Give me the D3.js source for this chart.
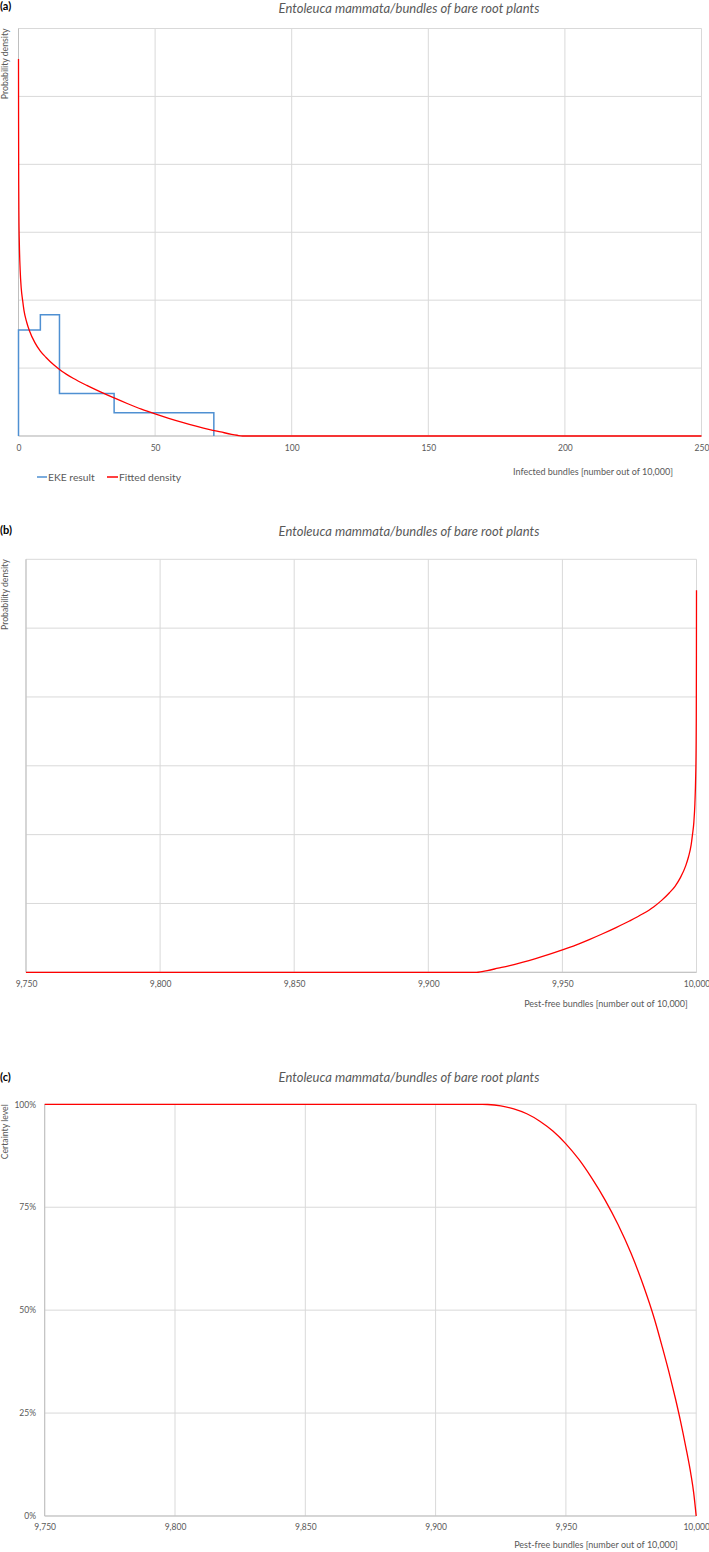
<!DOCTYPE html>
<html>
<head>
<meta charset="utf-8">
<script src="https://cdn.jsdelivr.net/npm/d3@7"></script>
<style>
  html, body { margin: 0; padding: 0; background: #fff; }
  svg { display: block; }
  text { font-family: Lato, "Open Sans", sans-serif; }
</style>
</head>
<body>
<svg id="chart" width="709" height="1552"></svg>
<script>
// ---------- DATA ----------
const chartTitle = "Entoleuca mammata/bundles of bare root plants";
const panelLabels = ["(a)", "(b)", "(c)"];

// EKE result histogram (infected bundles): bin edges and densities
const ekeEdges = [0, 8, 15, 35, 71.5];
const ekeDensity = [0.03125, 0.0357, 0.0125, 0.00685];

// Fitted density (infected bundles -> density)
const fittedX = [0, 0.03, 0.08, 0.15, 0.3, 0.6, 1, 1.5, 2, 3, 4, 6, 8, 10, 13, 16, 20, 25, 30, 35, 40, 45, 50, 55, 60, 65, 70, 74, 78, 80, 82, 250];
const fittedY = [0.111, 0.092, 0.074, 0.065, 0.057, 0.049, 0.0435, 0.040, 0.037, 0.0335, 0.031, 0.0275, 0.025, 0.0232, 0.0209, 0.0190, 0.0170, 0.0149, 0.0130, 0.0112, 0.0095, 0.0079, 0.0065, 0.0052, 0.0040, 0.0029, 0.0019, 0.0012, 0.0005, 0.00022, 0, 0];

// Certainty level (pest-free bundles -> certainty)
const certX = [9750, 9918, 9920, 9925, 9930, 9935, 9940, 9945, 9950, 9955, 9960, 9965, 9970, 9975, 9980, 9984, 9987, 9990, 9992, 9994, 9996, 9998, 9999, 10000];
const certY = [1, 1, 0.9995, 0.996, 0.989, 0.977, 0.959, 0.935, 0.904, 0.866, 0.820, 0.768, 0.708, 0.638, 0.555, 0.478, 0.41, 0.338, 0.286, 0.23, 0.168, 0.10, 0.058, 0];

// Tick values
const ticksA = [0, 50, 100, 150, 200, 250];
const ticksB = [9750, 9800, 9850, 9900, 9950, 10000];
const densityGrid = [0, 0.02, 0.04, 0.06, 0.08, 0.1, 0.12];
const certTicks = [0, 0.25, 0.5, 0.75, 1];

const legendLabels = ["EKE result", "Fitted density"];
const xTitleA = "Infected bundles [number out of 10,000]";
const xTitleB = "Pest-free bundles [number out of 10,000]";
const yTitleDensity = "Probability density";
const yTitleCert = "Certainty level";

// ---------- STYLE ----------
const gridColor = "#d9d9d9";
const axisColor = "#bfbfbf";
const textColor = "#595959";
const blue = "#4f90d2";
const red = "#ff0000";

const svg = d3.select("#chart");

function panel(cfg) {
  const g = svg.append("g");
  const x = d3.scaleLinear().domain(cfg.xDomain).range([cfg.left, cfg.right]);
  const y = d3.scaleLinear().domain(cfg.yDomain).range([cfg.bottom, cfg.top]);

  g.append("g").selectAll("line").data(cfg.xTicks).join("line")
    .attr("x1", d => x(d)).attr("x2", d => x(d))
    .attr("y1", cfg.top).attr("y2", cfg.bottom)
    .attr("stroke", gridColor).attr("stroke-width", 1);
  g.append("g").selectAll("line").data(cfg.yGrid).join("line")
    .attr("x1", cfg.left).attr("x2", cfg.right)
    .attr("y1", d => y(d)).attr("y2", d => y(d))
    .attr("stroke", gridColor).attr("stroke-width", 1);
  g.append("line").attr("x1", cfg.left).attr("x2", cfg.right)
    .attr("y1", cfg.bottom).attr("y2", cfg.bottom).attr("stroke", axisColor);
  g.append("line").attr("x1", cfg.left).attr("x2", cfg.left)
    .attr("y1", cfg.top).attr("y2", cfg.bottom).attr("stroke", axisColor);

  const xAxis = d3.axisBottom(x).tickValues(cfg.xTicks).tickSize(0).tickPadding(0)
    .tickFormat(cfg.xFormat);
  const xa = g.append("g").attr("transform", `translate(0,${cfg.xLabelY})`).call(xAxis);
  xa.select(".domain").remove();
  xa.selectAll("text").attr("fill", textColor).attr("font-size", 8.5)
    .attr("font-family", "Lato, sans-serif").attr("dy", "0.35em").attr("y", 0);

  if (cfg.yTicksLabels) {
    const yAxis = d3.axisLeft(y).tickValues(cfg.yTicksLabels).tickSize(0).tickPadding(0)
      .tickFormat(d3.format(".0%"));
    const ya = g.append("g").attr("transform", `translate(${cfg.yLabelX},0)`).call(yAxis);
    ya.select(".domain").remove();
    ya.selectAll("text").attr("fill", textColor).attr("font-size", 8.5)
      .attr("font-family", "Lato, sans-serif");
  }

  svg.append("text").attr("x", 0).attr("y", cfg.labelY)
    .attr("font-family", "Liberation Sans, Arial, sans-serif")
    .attr("font-weight", "bold").attr("font-size", 11).attr("fill", "#000")
    .text(cfg.panelLabel);
  svg.append("text").attr("x", 409).attr("y", cfg.titleY)
    .attr("text-anchor", "middle").attr("font-style", "italic")
    .attr("font-size", 13).attr("fill", textColor).text(chartTitle);
  svg.append("text").attr("transform", `translate(${cfg.yTitleX},${cfg.top}) rotate(-90)`)
    .attr("text-anchor", "end").attr("font-size", 8.7).attr("fill", textColor)
    .text(cfg.yTitle);
  svg.append("text").attr("x", cfg.xTitleX).attr("y", cfg.xTitleY)
    .attr("text-anchor", "middle").attr("font-size", 9).attr("fill", textColor)
    .text(cfg.xTitle);

  return { g, x, y };
}

// ---------- PANEL A ----------
const A = panel({
  left: 18.5, right: 701.5, top: 28.5, bottom: 436,
  xDomain: [0, 250], yDomain: [0, 0.12],
  xTicks: ticksA, yGrid: densityGrid, xFormat: d3.format("d"),
  xLabelY: 448, labelY: 10, titleY: 13, panelLabel: panelLabels[0],
  yTitleX: 8, yTitle: yTitleDensity,
  xTitle: xTitleA, xTitleX: 593, xTitleY: 475
});
{
  const pts = [[ekeEdges[0], 0]];
  ekeDensity.forEach((d, i) => { pts.push([ekeEdges[i], d]); pts.push([ekeEdges[i + 1], d]); });
  pts.push([ekeEdges[ekeEdges.length - 1], 0]);
  A.g.append("path").datum(pts)
    .attr("d", d3.line().x(d => A.x(d[0])).y(d => A.y(d[1])))
    .attr("fill", "none").attr("stroke", blue).attr("stroke-width", 1.5);
  const fitted = fittedX.map((v, i) => [v, fittedY[i]]);
  A.g.append("path").datum(fitted)
    .attr("d", d3.line().x(d => A.x(d[0])).y(d => A.y(d[1])).curve(d3.curveMonotoneX))
    .attr("fill", "none").attr("stroke", red).attr("stroke-width", 1.3);

  const lg = svg.append("g").attr("transform", "translate(0,477)");
  lg.append("line").attr("x1", 37).attr("x2", 47).attr("y1", 0).attr("y2", 0)
    .attr("stroke", blue).attr("stroke-width", 1.5);
  lg.append("text").attr("x", 48).attr("y", 0).attr("dy", "0.35em")
    .attr("font-size", 10.3).attr("fill", textColor).text(legendLabels[0]);
  lg.append("line").attr("x1", 107).attr("x2", 118).attr("y1", 0).attr("y2", 0)
    .attr("stroke", red).attr("stroke-width", 1.5);
  lg.append("text").attr("x", 119).attr("y", 0).attr("dy", "0.35em")
    .attr("font-size", 10.3).attr("fill", textColor).text(legendLabels[1]);
}

// ---------- PANEL B ----------
const B = panel({
  left: 26, right: 696.5, top: 559.3, bottom: 972.3,
  xDomain: [9750, 10000], yDomain: [0, 0.12],
  xTicks: ticksB, yGrid: densityGrid, xFormat: d3.format(","),
  xLabelY: 984, labelY: 534, titleY: 536, panelLabel: panelLabels[1],
  yTitleX: 8, yTitle: yTitleDensity,
  xTitle: xTitleB, xTitleX: 606, xTitleY: 1007
});
{
  const fittedPF = fittedX.map((v, i) => [10000 - v, fittedY[i]]).reverse();
  B.g.append("path").datum(fittedPF)
    .attr("d", d3.line().x(d => B.x(d[0])).y(d => B.y(d[1])).curve(d3.curveMonotoneX))
    .attr("fill", "none").attr("stroke", red).attr("stroke-width", 1.3);
}

// ---------- PANEL C ----------
const C = panel({
  left: 44.7, right: 696.2, top: 1104.3, bottom: 1516,
  xDomain: [9750, 10000], yDomain: [0, 1],
  xTicks: ticksB, yGrid: certTicks, xFormat: d3.format(","),
  yTicksLabels: certTicks, yLabelX: 36,
  xLabelY: 1527, labelY: 1081, titleY: 1082, panelLabel: panelLabels[2],
  yTitleX: 8, yTitle: yTitleCert,
  xTitle: xTitleB, xTitleX: 596, xTitleY: 1548
});
{
  const cert = certX.map((v, i) => [v, certY[i]]);
  C.g.append("path").datum(cert)
    .attr("d", d3.line().x(d => C.x(d[0])).y(d => C.y(d[1])).curve(d3.curveMonotoneX))
    .attr("fill", "none").attr("stroke", red).attr("stroke-width", 1.3);
}
</script>
</body>
</html>
